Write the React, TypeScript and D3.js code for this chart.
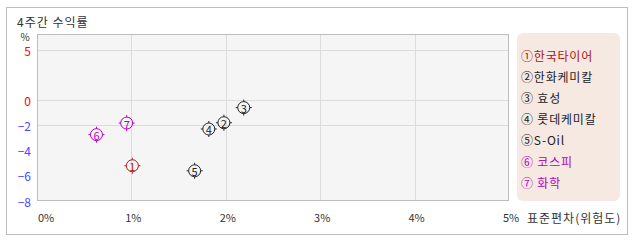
import React from 'react';
import * as d3 from 'd3';

const names = ['한국타이어', '한화케미칼', '효성', '롯데케미칼', 'S-Oil', '코스피', '화학'];
const legendLabels = ['①한국타이어', '②한화케미칼', '③ 효성', '④ 롯데케미칼', '⑤S-Oil', '⑥ 코스피', '⑦ 화학'];
const risk = [1.01, 1.98, 2.19, 1.82, 1.67, 0.63, 0.95];
const ret = [-5.2, -1.78, -0.58, -2.28, -5.6, -2.73, -1.81];
const colors = ['#a8201a', '#222222', '#222222', '#222222', '#222222', '#b000c0', '#b000c0'];
const legendColors = ['#b01010', '#222222', '#222222', '#222222', '#222222', '#b000c0', '#b000c0'];
const yTicks = [5, 0, -2, -4, -6, -8];
const yGrid = [5, 0, -2];
const xTicks = [0, 1, 2, 3, 4, 5];
const xGrid = [1, 2, 3, 4];

const FONT = "'Noto Sans CJK KR', 'Noto Sans', sans-serif";

export default function App() {
  const left = 37, right = 509, top = 34, bottom = 201;
  const x = d3.scaleLinear().domain([0, 5]).range([left, right]);
  const y = d3.scaleLinear().domain([-8, 0, 5, 6.6]).range([bottom, 100.3, 50.3, top]);

  return (
    <svg width={638} height={242} style={{ position: 'absolute', left: 0, top: 0 }} fontFamily={FONT}>
      <rect x={0} y={0} width={638} height={242} fill="#fff" />
      <rect x={6.5} y={7.5} width={621} height={227} fill="#fff" stroke="#bdbdbd" strokeWidth={1} />
      <text x={17} y={21} fontSize={12} letterSpacing={1} fill="#333" dominantBaseline="central">4주간 수익률</text>
      <text x={25} y={36} fontSize={10} fill="#333" textAnchor="middle" dominantBaseline="central">%</text>

      <rect x={left} y={top} width={right - left} height={bottom - top} fill="#f5f5f5" />
      {yGrid.map((v) => (
        <line key={'yg' + v} x1={left} x2={right} y1={Math.round(y(v)) + 0.5} y2={Math.round(y(v)) + 0.5} stroke="#dcdcdc" />
      ))}
      {xGrid.map((v) => (
        <line key={'xg' + v} y1={top} y2={bottom} x1={Math.round(x(v)) + 0.5} x2={Math.round(x(v)) + 0.5} stroke="#dcdcdc" />
      ))}
      <rect x={left + 0.5} y={top + 0.5} width={right - left - 1} height={bottom - top - 1} fill="none" stroke="#bdbdbd" />

      {yTicks.map((v) => (
        <text key={'yt' + v} x={31} y={y(v)} fontSize={12} textAnchor="end" dominantBaseline="central"
          fill={v >= 0 ? '#ff0000' : '#4a4aff'}>{v < 0 ? '−' + Math.abs(v) : String(v)}</text>
      ))}
      {xTicks.map((v) => (
        <text key={'xt' + v} x={v === 0 ? left + 1 : x(v) + 2} y={217} fontSize={11}
          textAnchor={v === 0 ? 'start' : 'middle'} dominantBaseline="central" fill="#333">{v + '%'}</text>
      ))}
      <text x={527} y={217} fontSize={12} letterSpacing={1} fill="#333" dominantBaseline="central">표준편차(위험도)</text>

      {names.map((n, i) => {
        const cx = x(risk[i]);
        const cy = y(ret[i]);
        const r = 6;
        const c = colors[i];
        return (
          <g key={n}>
            <circle cx={cx} cy={cy} r={r} fill="none" stroke={c} strokeWidth={1} />
            <line x1={cx} x2={cx} y1={cy - r} y2={cy - r - 2} stroke={c} />
            <line x1={cx} x2={cx} y1={cy + r} y2={cy + r + 2} stroke={c} />
            <line y1={cy} y2={cy} x1={cx - r} x2={cx - r - 2} stroke={c} />
            <line y1={cy} y2={cy} x1={cx + r} x2={cx + r + 2} stroke={c} />
            <text x={cx} y={cy + 0.5} fontSize={11} fill={c} textAnchor="middle" dominantBaseline="central">{String(i + 1)}</text>
          </g>
        );
      })}

      <rect x={517} y={33} width={103} height={168} rx={6} fill="#f5e9e2" />
      {legendLabels.map((l, i) => (
        <text key={l} x={521} y={55 + i * 21.2} fontSize={12} letterSpacing={0.8} fill={legendColors[i]} dominantBaseline="central">{l}</text>
      ))}
    </svg>
  );
}
